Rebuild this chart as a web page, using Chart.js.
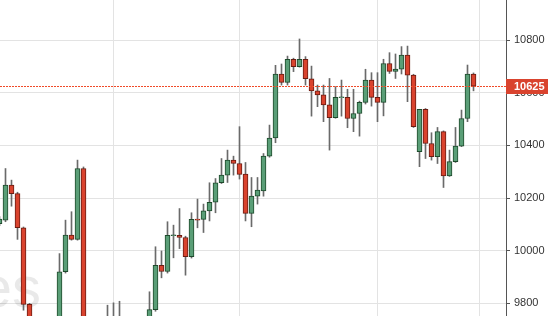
<!DOCTYPE html>
<html><head><meta charset="utf-8">
<script src="https://cdn.jsdelivr.net/npm/chart.js@4"></script>
<style>html,body{margin:0;padding:0;background:#fff;overflow:hidden}#c{display:block}</style>
</head><body>
<canvas id="c" width="548" height="316"></canvas>
<script>
// OHLC values (index 0 = left edge, partially visible)
const opens  = [10103,10116,10249,10217,10087,9796,9690,9640,9600,9650,
                9700,9920,10059,10043,10312,9650,9610,9660,9700,9730,
                9700,9720,9690,9670,9700,9690,9776,9944,9921,10057,
                10058,10050,9977,10120,10119,10151,10184,10258,10287,10344,
                10331,10291,10142,10207,10227,10359,10428,10671,10639,10727,
                10699,10727,10653,10607,10592,10554,10505,10581,10582,10502,
                10521,10563,10648,10582,10563,10711,10681,10689,10743,10667,
                10376,10537,10407,10357,10452,10284,10338,10397,10502,10671];
const highs  = [10130,10312,10268,10222,10090,9800,9720,9680,9700,9740,
                9989,10116,10148,10344,10318,9700,9720,9740,9793,9802,
                9808,9745,9730,9740,9735,9844,10015,9999,10110,10097,
                10160,10055,10144,10196,10177,10258,10274,10350,10382,10359,
                10471,10335,10278,10278,10369,10477,10704,10709,10739,10731,
                10804,10737,10701,10629,10629,10654,10623,10648,10613,10613,
                10568,10689,10676,10676,10727,10752,10747,10775,10777,10670,
                10537,10540,10448,10468,10455,10382,10468,10534,10705,10675];
const lows   = [10095,10110,10169,10043,9774,9670,9610,9580,9590,9630,
                9690,9915,10040,10040,9630,9580,9590,9640,9680,9670,
                9680,9660,9640,9650,9660,9680,9770,9897,9915,9973,
                10008,9907,9972,10087,10069,10113,10144,10255,10259,10287,
                10272,10113,10091,10177,10207,10355,10410,10629,10629,10680,
                10697,10629,10511,10547,10490,10382,10503,10511,10467,10452,
                10435,10557,10549,10490,10512,10673,10654,10671,10566,10468,
                10319,10350,10344,10331,10240,10282,10335,10395,10490,10607];
const closes = [10120,10249,10217,10087,9796,9690,9640,9600,9650,9700,
                9920,10059,10043,10312,9650,9610,9660,9700,9730,9700,
                9720,9690,9670,9700,9690,9776,9944,9921,10058,10060,
                10050,9977,10119,10116,10151,10184,10258,10287,10344,10331,
                10290,10142,10207,10230,10359,10428,10671,10639,10727,10699,
                10727,10653,10607,10592,10554,10505,10582,10584,10502,10521,
                10563,10648,10582,10563,10711,10681,10690,10743,10667,10471,
                10537,10407,10357,10452,10284,10338,10397,10502,10671,10625];
const yTickValues = [9800, 10000, 10200, 10400, 10600, 10800];
const xGridIndex = [19, 40, 63, 80];
const watermarkText = 'es';
const lastPrice = closes[closes.length - 1];

const GREEN = '#5a9e77', GREEN_B = '#1e4a2c', RED = '#d9432e', RED_B = '#6a1c12', WICK = '#6a6a6a';
const isUp = opens.map((o, i) => closes[i] >= o);

const bodyData = opens.map((o, i) => ({x: i, y: [o, closes[i]]}));
const wickData = lows.map((l, i) => ({x: i, y: [l, highs[i]]}));

const decor = {
  id: 'decor',
  beforeDatasetsDraw(chart) {
    const {ctx} = chart;
    ctx.save();
    ctx.font = '58px "Liberation Sans", Arial, sans-serif';
    ctx.fillStyle = 'rgba(0,0,0,0.085)';
    ctx.textAlign = 'right';
    ctx.textBaseline = 'alphabetic';
    ctx.fillText(watermarkText, 41, 307);
    ctx.restore();
  },
  afterDatasetsDraw(chart) {
    const {ctx, chartArea} = chart;
    const y = Math.round(chart.scales.y.getPixelForValue(lastPrice)) + 0.5;
    ctx.save();
    ctx.strokeStyle = '#f04a28';
    ctx.lineWidth = 1;
    ctx.setLineDash([2, 1]);
    ctx.beginPath();
    ctx.moveTo(chartArea.left, y);
    ctx.lineTo(chartArea.right, y);
    ctx.stroke();
    ctx.restore();
  },
  afterDraw(chart) {
    const {ctx, chartArea} = chart;
    const y = Math.round(chart.scales.y.getPixelForValue(lastPrice));
    ctx.save();
    ctx.fillStyle = '#d9432e';
    ctx.fillRect(chartArea.right, y - 7, chart.width - chartArea.right, 15);
    ctx.fillStyle = '#ffffff';
    ctx.font = 'bold 11px "Liberation Sans", Arial, sans-serif';
    ctx.textAlign = 'left';
    ctx.textBaseline = 'middle';
    ctx.fillText(String(lastPrice), chartArea.right + 8, y + 1);
    ctx.restore();
  }
};

new Chart(document.getElementById('c'), {
  type: 'bar',
  data: {
    datasets: [
      {
        label: 'body', data: bodyData, grouped: false, barThickness: 5,
        backgroundColor: isUp.map(u => u ? GREEN : RED),
        borderColor: isUp.map(u => u ? GREEN_B : RED_B),
        borderWidth: 1, borderSkipped: false
      },
      {
        label: 'wick', data: wickData, grouped: false, barThickness: 1,
        backgroundColor: WICK, borderWidth: 0
      }
    ]
  },
  options: {
    responsive: false, animation: false, devicePixelRatio: 1,
    layout: {padding: 0},
    plugins: {legend: {display: false}, tooltip: {enabled: false}},
    scales: {
      x: {
        type: 'linear', min: 0.5 / 6, max: 506.5 / 6, offset: false,
        grid: {offset: false, color: '#e3e3e3', drawTicks: false},
        border: {display: false},
        ticks: {display: false},
        afterBuildTicks: s => { s.ticks = xGridIndex.map(v => ({value: v})); },
        afterFit: s => { s.height = 0; s.paddingLeft = 0; s.paddingRight = 0; }
      },
      y: {
        position: 'right', min: 9752, max: 10952,
        grid: {color: '#e3e3e3', tickColor: '#555', tickLength: 4},
        border: {display: true, color: '#555'},
        ticks: {color: '#333', padding: 4,
                font: {family: '"Liberation Sans", Arial, sans-serif', size: 11},
                callback: v => String(v)},
        afterBuildTicks: s => { s.ticks = yTickValues.map(v => ({value: v})); },
        afterFit: s => { s.width = 42; s.paddingTop = 0; s.paddingBottom = 0; }
      }
    }
  },
  plugins: [decor]
});
</script>
</body></html>
